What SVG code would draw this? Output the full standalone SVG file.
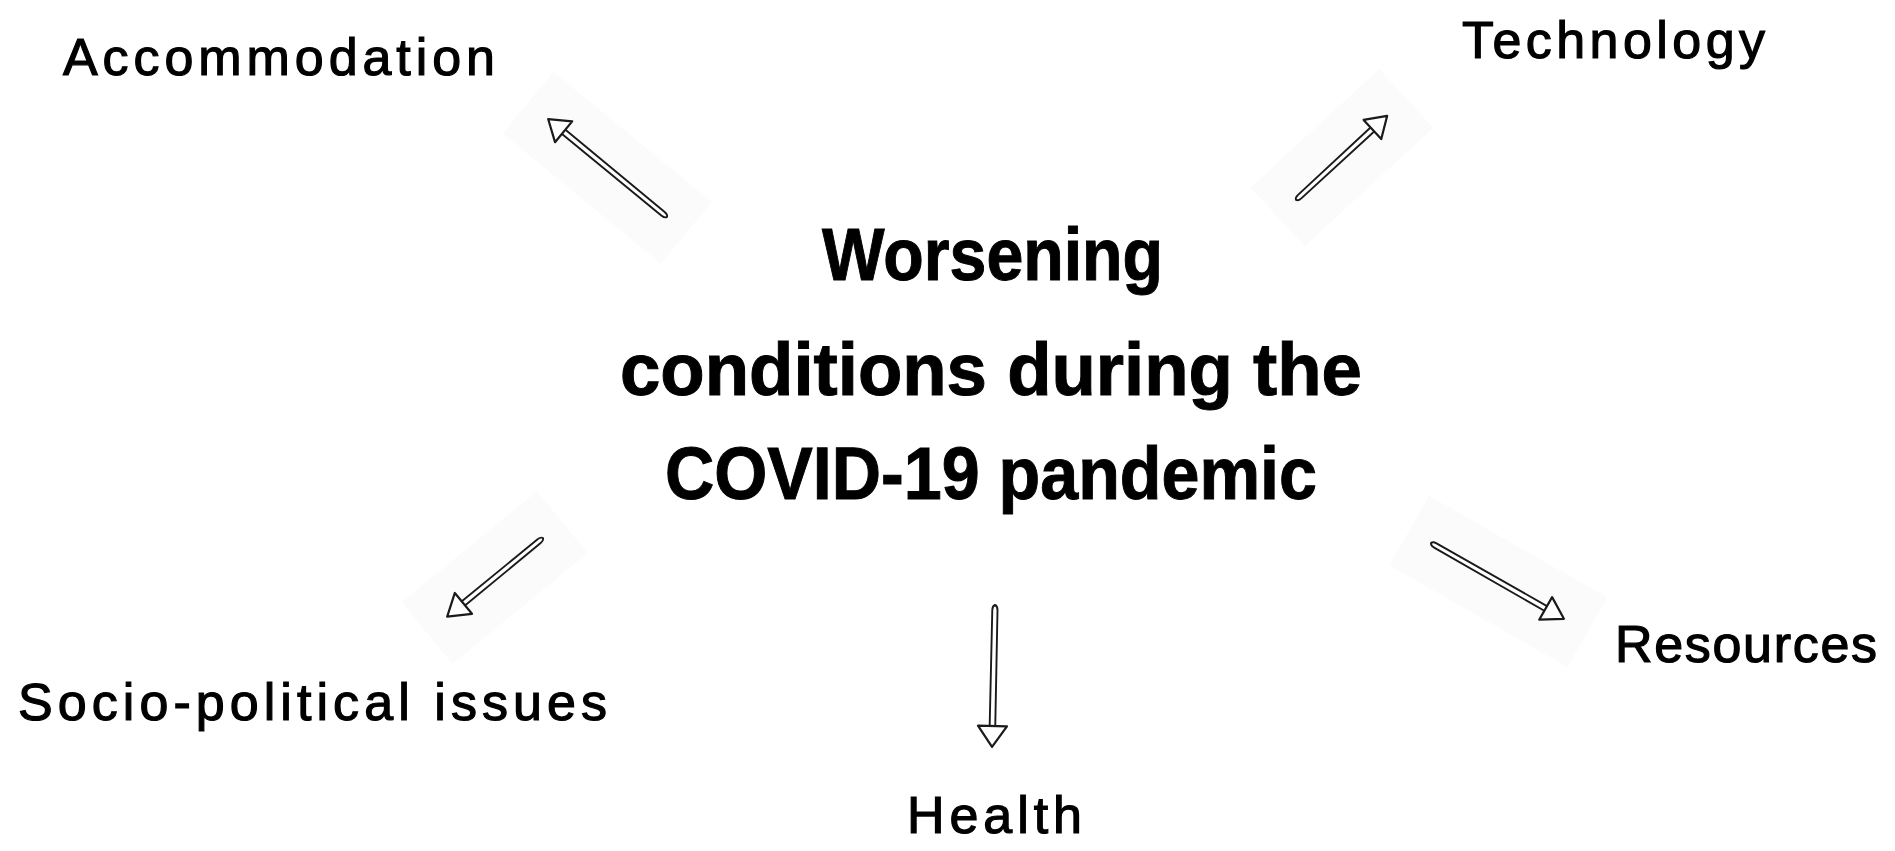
<svg xmlns="http://www.w3.org/2000/svg" width="1895" height="851" viewBox="0 0 1895 851">
  <style>
    .label { font-family: "Liberation Sans", "DejaVu Sans", sans-serif; font-size: 52px; fill: #000; stroke: #000; stroke-width: 1.2; }
    .title { font-family: "Liberation Sans", "DejaVu Sans", sans-serif; font-size: 74px; font-weight: bold; fill: #000; stroke: #000; stroke-width: 1; }
    .shade { fill: #fbfbfb; }
    .shaft { fill: #fff; stroke: #1a1a1a; stroke-width: 1.9; stroke-linejoin: round; }
    .head { fill: #fff; stroke: #1a1a1a; stroke-width: 2.2; stroke-linejoin: round; }
  </style>
  <rect width="1895" height="851" fill="#fff"/>

  <g id="connectors">
    <!-- to Accommodation -->
    <g transform="translate(667,217) rotate(-140.5)">
      <rect class="shade" x="-25" y="-40" width="205" height="80"/>
      <path class="shaft" d="M0 0 Q1 -2.4 5 -2.4 L135 -2.7 L135 2.7 L5 2.4 Q1 2.4 0 0 Z"/>
      <path class="head" d="M134 -13.5 L154 0 L134 13.5 Z"/>
    </g>
    <!-- to Technology -->
    <g transform="translate(1296,200) rotate(-42.7)">
      <rect class="shade" x="-25" y="-40" width="175" height="80"/>
      <path class="shaft" d="M0 0 Q1 -2.4 5 -2.4 L105 -2.7 L105 2.7 L5 2.4 Q1 2.4 0 0 Z"/>
      <path class="head" d="M104 -13 L124 0 L104 13 Z"/>
    </g>
    <!-- to Socio-political issues -->
    <g transform="translate(543,538) rotate(140.6)">
      <rect class="shade" x="-25" y="-40" width="175" height="80"/>
      <path class="shaft" d="M0 0 Q1 -2.4 5 -2.4 L104 -2.7 L104 2.7 L5 2.4 Q1 2.4 0 0 Z"/>
      <path class="head" d="M103 -13.5 L124 0 L103 13.5 Z"/>
    </g>
    <!-- to Resources -->
    <g transform="translate(1431,543) rotate(29.7)">
      <rect class="shade" x="-25" y="-40" width="205" height="80"/>
      <path class="shaft" d="M0 0 Q1 -2.4 5 -2.4 L133 -2.7 L133 2.7 L5 2.4 Q1 2.4 0 0 Z"/>
      <path class="head" d="M132 -13 L153 0 L132 13 Z"/>
    </g>
    <!-- to Health -->
    <g transform="translate(995,605) rotate(91.2)">
      <path class="shaft" d="M0 0 Q1 -2.6 5 -2.6 L122 -2.8 L122 2.8 L5 2.6 Q1 2.6 0 0 Z"/>
      <path class="head" d="M121 -14.5 L142 0 L121 14.5 Z"/>
    </g>
  </g>

  <g id="center">
    <text class="title" x="822" y="280" textLength="341" lengthAdjust="spacingAndGlyphs">Worsening</text>
    <text class="title" x="620" y="395" textLength="742" lengthAdjust="spacingAndGlyphs">conditions during the</text>
    <text class="title" x="665" y="499" textLength="652" lengthAdjust="spacingAndGlyphs">COVID-19 pandemic</text>
  </g>

  <g id="accommodation">
    <text class="label" x="63" y="75" textLength="432" lengthAdjust="spacing">Accommodation</text>
  </g>
  <g id="technology">
    <text class="label" x="1462" y="58" textLength="303" lengthAdjust="spacing">Technology</text>
  </g>
  <g id="socio-political">
    <text class="label" x="18" y="720" textLength="589" lengthAdjust="spacing">Socio-political issues</text>
  </g>
  <g id="resources">
    <text class="label" x="1615" y="662" textLength="262" lengthAdjust="spacing">Resources</text>
  </g>
  <g id="health">
    <text class="label" x="907" y="833" textLength="175" lengthAdjust="spacing">Health</text>
  </g>
</svg>
